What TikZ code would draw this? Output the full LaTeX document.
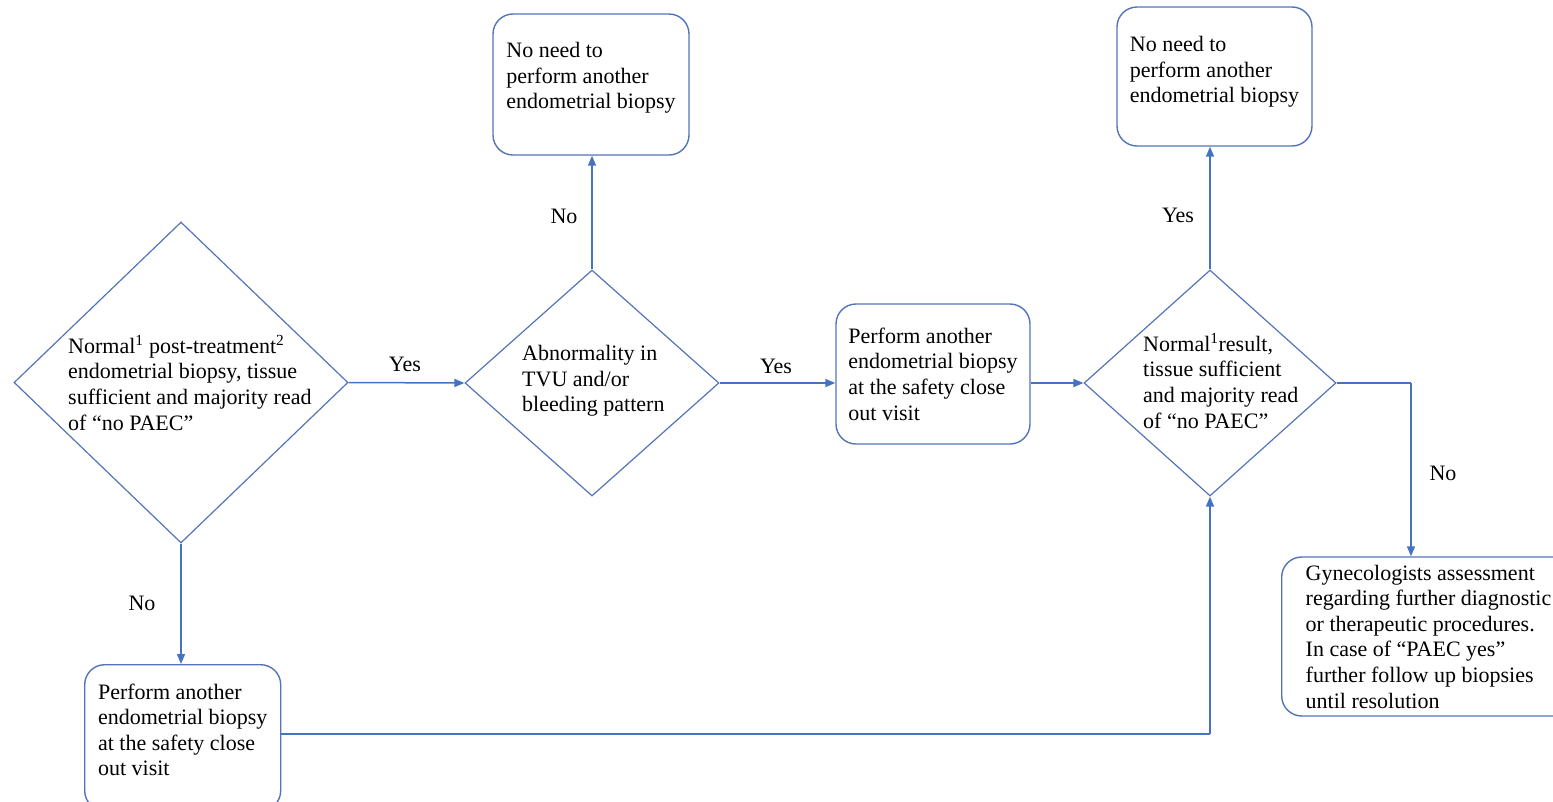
\documentclass[tikz,border=0pt]{standalone}
\usepackage{fontspec}
\setmainfont{Liberation Serif}
\usetikzlibrary{shapes.geometric,arrows.meta}
\definecolor{arrcol}{RGB}{68,114,196}
\definecolor{bordcol}{RGB}{84,116,184}
\begin{document}
\begin{tikzpicture}[x=1pt,y=-1pt,
  every node/.style={font=\fontsize{22}{25.6}\selectfont},
  box/.style={draw=bordcol,line width=1.4pt,rounded corners=20pt,fill=white,align=left,inner sep=0pt},
  dia/.style={draw=bordcol,line width=1.2pt,shape=diamond,inner sep=0pt},
  dtext/.style={align=left,inner sep=0pt,anchor=west},
  lbl/.style={inner sep=1pt},
  arr/.style={draw=arrcol,line width=1.5pt,-{Triangle[length=10pt,width=8pt]}},
  ln/.style={draw=arrcol,line width=1.5pt}]
\useasboundingbox (0,0) rectangle (1553,801);
% diamonds
\node[dia,minimum width=334pt,minimum height=321pt] (d1) at (181,382.5) {};
\node[dtext] (d1t) at (68,383) {Normal\textsuperscript{1} post-treatment\textsuperscript{2}\\endometrial biopsy, tissue\\sufficient and majority read\\of ``no PAEC''};
\node[dia,minimum width=254pt,minimum height=226pt] (d2) at (592,383) {};
\node[dtext] (d2t) at (522,381) {Abnormality in\\TVU and/or\\bleeding pattern};
\node[dia,minimum width=252pt,minimum height=226pt] (d3) at (1210,383) {};
\node[dtext] (d3t) at (1143,381) {Normal\textsuperscript{1}result,\\tissue sufficient\\and majority read\\of ``no PAEC''};
% boxes
\node[box,minimum width=196pt,minimum height=141pt] (t1) at (591,84.5) {No need to\\perform another\\endometrial biopsy\rule[-18pt]{0pt}{0pt}};
\node[box,minimum width=195pt,minimum height=139pt] (t2) at (1214.5,76.5) {No need to\\perform another\\endometrial biopsy\rule[-14pt]{0pt}{0pt}};
\node[box,minimum width=194pt,minimum height=140pt] (mb) at (933,374) {Perform another\\endometrial biopsy\\at the safety close\\out visit};
\node[box,minimum width=196pt,minimum height=146pt,anchor=north west] (bl) at (84,664) {Perform another\\endometrial biopsy\\at the safety close\\out visit\rule[-16pt]{0pt}{0pt}};
\node[box,minimum height=159pt,inner xsep=24pt,anchor=west] (rb) at (1281,636.5) {Gynecologists assessment\\regarding further diagnostic\\or therapeutic procedures.\\In case of ``PAEC yes''\\further follow up biopsies\\until resolution};
% connectors
\draw[arr] (d1.east) -- (d2.west);
\draw[arr] (d2.north) -- (d2.north |- t1.south);
\draw[arr] (d2.east) -- (d2.east -| mb.west);
\draw[arr] (mb.east |- d3.west) -- (d3.west);
\draw[arr] (d3.north) -- (d3.north |- t2.south);
\coordinate (c1) at (1411,383);
\draw[ln] (d3.east) -- (c1);
\draw[arr] (c1) -- (c1 |- rb.north);
\draw[arr] (d1.south) -- (d1.south |- bl.north);
\coordinate (c2) at (1210,734);
\draw[ln] (bl.east |- c2) -- (c2);
\draw[arr] (c2) -- (d3.south);
% labels
\node[lbl] (l1) at (405,364) {Yes};
\node[lbl] (l2) at (564,216) {No};
\node[lbl] (l3) at (776,366) {Yes};
\node[lbl] (l4) at (1178,215) {Yes};
\node[lbl] (l5) at (1443,473) {No};
\node[lbl] (l6) at (142,603) {No};
\end{tikzpicture}
\end{document}
